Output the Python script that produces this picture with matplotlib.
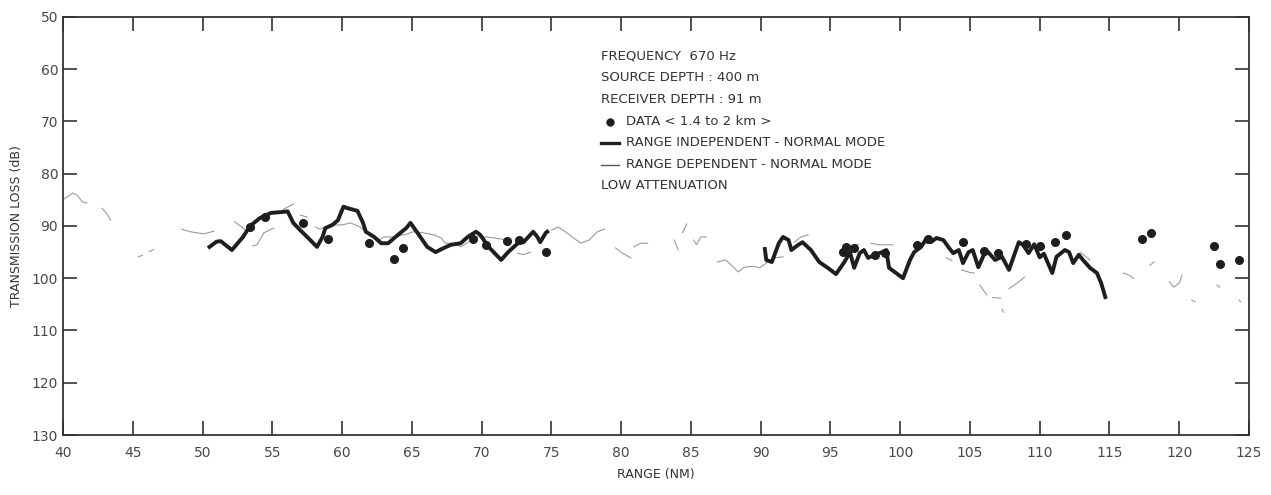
import matplotlib.pyplot as plt
import numpy as np

nan = np.nan

# range independent normal mode, two computed stretches (range NM, loss dB)
indep_range_a = [50.5, 51.0, 51.3, 52.1, 52.9, 53.4, 54.1, 54.9, 55.8, 56.1, 56.5, 57.0,
                 57.5, 58.2, 58.6, 58.8, 59.3, 59.7, 60.1, 60.4, 61.1, 61.5, 61.7, 62.3,
                 62.8, 63.3, 64.0, 64.6, 64.9, 65.4, 66.1, 66.7, 67.3, 67.8, 68.5, 69.0,
                 69.6, 69.9, 70.5, 71.4, 71.9, 72.6, 73.0, 73.7, 74.0, 74.2, 74.6, 74.7]
indep_loss_a = [94.0, 93.0, 92.9, 94.6, 92.1, 90.0, 88.5, 87.5, 87.3, 87.2, 89.4, 90.8,
                92.1, 94.0, 92.1, 90.4, 89.8, 88.9, 86.3, 86.6, 87.1, 89.4, 91.1, 92.1,
                93.3, 93.3, 91.7, 90.4, 89.4, 91.3, 94.0, 95.0, 94.2, 93.6, 93.3, 92.1,
                91.1, 91.7, 94.0, 96.5, 95.0, 93.3, 93.1, 91.1, 92.1, 93.1, 91.3, 91.1]

indep_range_b = [90.3, 90.4, 90.8, 91.3, 91.6, 92.0, 92.2, 92.7, 93.0, 93.6, 94.2, 94.8,
                 95.4, 96.0, 96.4, 96.7, 97.1, 97.4, 97.7, 98.2, 98.7, 99.0, 99.2, 99.7,
                 100.2, 100.7, 101.0, 101.5, 101.9, 102.2, 102.6, 103.1, 103.5, 103.8,
                 104.2, 104.5, 104.9, 105.2, 105.6, 106.0, 106.3, 106.8, 107.3, 107.8,
                 108.1, 108.5, 108.8, 109.2, 109.6, 110.0, 110.3, 110.9, 111.2, 111.8,
                 112.1, 112.4, 112.8, 113.1, 113.6, 114.1, 114.4, 114.7]
indep_loss_b = [94.4, 96.5, 96.9, 93.3, 92.1, 92.7, 94.6, 93.6, 93.1, 94.6, 96.9, 98.0,
                99.2, 96.9, 95.0, 98.0, 95.2, 94.6, 96.1, 95.5, 95.0, 94.6, 98.0, 99.0,
                100.0, 96.5, 95.0, 94.0, 92.3, 93.1, 92.3, 92.7, 94.2, 95.2,
                94.6, 97.1, 95.0, 94.6, 97.9, 95.5, 95.0, 96.5, 95.9, 98.4,
                96.1, 93.1, 93.6, 95.2, 93.5, 96.0, 95.3, 99.0, 95.9, 94.6,
                95.0, 97.1, 95.5, 96.5, 98.0, 99.0, 100.9, 103.6]

# range dependent normal mode, broken trace (nan = gap)
dep_range = [40.1, 40.7, 41.0, 41.4, 41.7, nan,
             42.8, 43.2, 43.4, nan,
             45.4, 45.7, nan, 46.2, 46.5, nan,
             48.5, 49.1, 50.1, 50.8, nan,
             52.3, 52.8, 53.1, nan,
             53.6, 53.9, 54.4, 55.1, nan,
             55.8, 56.5, nan,
             57.0, 57.5, nan,
             58.1, 58.4, 59.2, 60.0, 60.6, 61.3, 61.8, 62.3, 62.6, 63.0, 63.7, 64.7,
             65.1, 65.8, 66.6, 67.1, 67.4, 68.0, 68.5, 69.1, 69.7, 70.4, 71.4, 72.1, nan,
             72.6, 73.0, 73.5, nan,
             75.0, 75.5, 76.0, 76.6, 77.1, 77.7, 78.3, 78.8, nan,
             79.6, 80.1, 80.7, nan,
             80.9, 81.4, 81.9, nan,
             83.8, 84.1, nan, 84.4, 84.7, nan,
             85.2, 85.4, 85.7, 86.1, nan,
             86.9, 87.5, 87.9, 88.4, 88.8, 89.5, 89.9, 90.4, 91.0, 91.6, nan,
             92.4, 92.9, 93.4, nan,
             96.3, 97.0, nan,
             97.9, 98.5, 99.5, nan,
             103.3, 103.7, nan,
             104.4, 105.0, 105.3, nan,
             105.7, 106.2, nan,
             106.6, 107.2, nan,
             107.3, 107.4, nan,
             107.8, 108.5, 108.9, nan,
             112.9, 113.6, nan,
             116.0, 116.4, 116.7, nan,
             117.9, 118.2, nan,
             119.3, 119.6, 120.0, 120.2, nan,
             120.9, 121.1, nan,
             122.7, 122.9, nan,
             124.3, 124.4]
dep_loss = [84.8, 83.7, 84.1, 85.4, 85.6, nan,
            86.6, 87.9, 88.9, nan,
            95.9, 95.6, nan, 94.9, 94.5, nan,
            90.6, 91.1, 91.5, 91.0, nan,
            89.2, 90.2, 90.8, nan,
            93.8, 93.6, 91.3, 90.4, nan,
            86.8, 85.8, nan,
            87.9, 88.3, nan,
            90.2, 90.6, 89.8, 89.8, 89.4, 90.2, 91.3, 92.1, 92.7, 92.1, 92.1, 91.5,
            91.1, 91.3, 91.7, 92.3, 93.3, 93.3, 94.0, 93.0, 92.1, 92.1, 92.5, 92.7, nan,
            95.2, 95.5, 95.0, nan,
            90.8, 90.2, 91.1, 92.3, 93.3, 92.7, 91.1, 90.6, nan,
            94.2, 95.2, 96.1, nan,
            94.0, 93.3, 93.3, nan,
            92.7, 94.6, nan, 91.3, 89.6, nan,
            92.7, 93.6, 92.1, 92.1, nan,
            96.9, 96.5, 97.5, 98.8, 97.9, 97.7, 98.0, 97.1, 96.1, 95.9, nan,
            93.1, 92.1, 91.7, nan,
            93.9, 93.5, nan,
            93.3, 93.6, 93.6, nan,
            96.1, 96.6, nan,
            98.4, 98.9, 99.0, nan,
            101.3, 103.2, nan,
            103.7, 103.8, nan,
            105.9, 106.5, nan,
            102.0, 100.7, 99.8, nan,
            95.0, 96.5, nan,
            99.0, 99.4, 100.0, nan,
            97.5, 96.9, nan,
            100.7, 101.7, 100.9, 99.4, nan,
            104.2, 104.5, nan,
            101.3, 101.7, nan,
            104.2, 104.5]

# measured data, 1.4 to 2 km
data_range = [53.4, 54.5, 57.2, 59.0, 61.9, 63.7, 64.4, 69.4, 70.3, 71.8, 72.7, 74.6,
              95.9, 96.1, 96.7, 98.2, 98.9, 101.2, 102.0, 104.5, 106.0, 107.0, 109.0,
              110.0, 111.1, 111.9, 117.3, 118.0, 122.5, 122.9, 124.3]
data_loss = [90.1, 88.3, 89.4, 92.5, 93.3, 96.3, 94.3, 92.5, 93.6, 92.9, 92.7, 95.0,
             95.0, 94.0, 94.2, 95.5, 95.2, 93.6, 92.5, 93.1, 94.8, 95.2, 93.4,
             93.8, 93.1, 91.7, 92.5, 91.3, 93.8, 97.3, 96.5]

notes = ["FREQUENCY  670 Hz", "SOURCE DEPTH : 400 m", "RECEIVER DEPTH : 91 m",
         "DATA < 1.4 to 2 km >", "RANGE INDEPENDENT - NORMAL MODE",
         "RANGE DEPENDENT - NORMAL MODE", "LOW ATTENUATION"]

ink = '#1e1e1e'
fig = plt.figure(figsize=(12.71, 4.95), dpi=100)
ax = fig.add_axes([0.0496, 0.1212, 0.9331, 0.8445])

ax.plot(dep_range, dep_loss, color='#9a9a9a', lw=0.8)
ax.plot(indep_range_a, indep_loss_a, color=ink, lw=2.8, solid_joinstyle='round')
ax.plot(indep_range_b, indep_loss_b, color=ink, lw=2.8, solid_joinstyle='round')
ax.plot(data_range, data_loss, 'o', color=ink, ms=5.5)

ax.set_xlim(40, 125)
ax.set_ylim(130, 50)
ax.set_xticks(np.arange(40, 126, 5))
ax.set_yticks(np.arange(50, 131, 10))
ax.tick_params(direction='in', top=True, right=True, length=10, width=1.2,
               color='#333333', labelcolor='#484848', labelsize=10)
ax.tick_params(axis='x', pad=8)
for s in ax.spines.values():
    s.set_linewidth(1.3)
    s.set_color('#333333')

ax.set_xlabel('RANGE (NM)', fontsize=9, color='#333333', labelpad=6)
ax.set_ylabel('TRANSMISSION LOSS (dB)', fontsize=9, color='#333333', labelpad=6)

# annotation block with its own key
x0 = 0.4536
ys = [0.9068, 0.8542, 0.8020, 0.7494, 0.6992, 0.6465, 0.5964]
for i, (t, y) in enumerate(zip(notes, ys)):
    x = x0 + 0.0211 if i in (3, 4, 5) else x0
    ax.text(x, y, t, transform=ax.transAxes, fontsize=9.5, color='#333333',
            va='center', ha='left')
ax.plot([x0 + 0.0075], [ys[3]], 'o', color=ink, ms=5, transform=ax.transAxes)
ax.plot([x0, x0 + 0.0155], [ys[4], ys[4]], color=ink, lw=2.4, transform=ax.transAxes)
ax.plot([x0, x0 + 0.0155], [ys[5], ys[5]], color='#555555', lw=1.0, transform=ax.transAxes)

fig.savefig('out.png', dpi=100, facecolor='white')
